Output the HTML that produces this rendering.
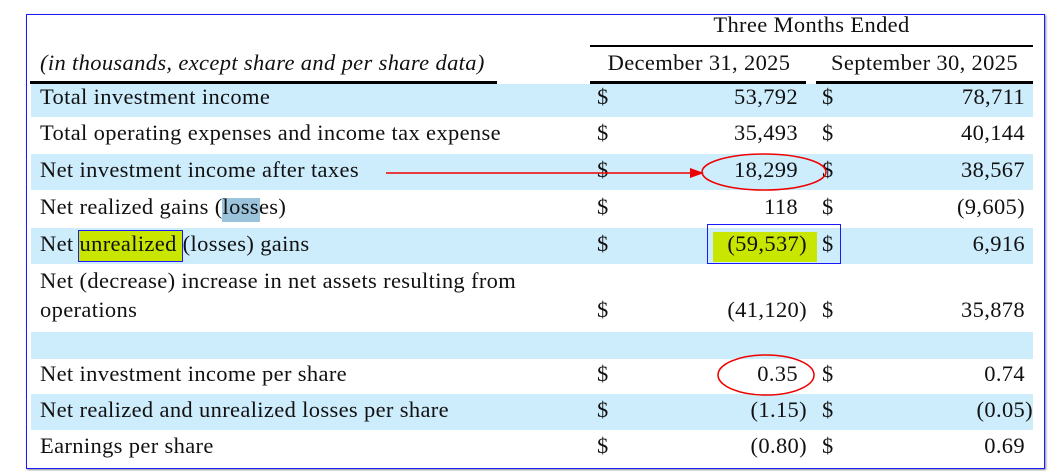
<!DOCTYPE html>
<html><head><meta charset="utf-8"><style>
body{margin:0;width:1054px;height:471px;background:#fff;position:relative;overflow:hidden;font-family:"Liberation Serif",serif;font-size:22.5px;letter-spacing:0.35px;color:#111}
.a{position:absolute;white-space:nowrap}
.band{position:absolute;left:31px;width:1002px;background:#cdecfc}
.r{text-align:right}
.ln{position:absolute;background:#000}
</style></head><body>
<div class="a" style="left:26px;top:14px;width:1017px;height:453px;border:1.5px solid #1a1aff;box-shadow:1px 1px 2px #888"></div>

<div class="band" style="top:84px;height:33px"></div>
<div class="band" style="top:154px;height:36px"></div>
<div class="band" style="top:228px;height:36px"></div>
<div class="band" style="top:332px;height:27px"></div>
<div class="band" style="top:394px;height:36px"></div>

<div class="a" style="left:590px;width:443px;text-align:center;top:12px">Three Months Ended</div>
<div class="ln" style="left:590px;top:45px;width:443px;height:1.5px"></div>
<div class="a" style="left:40px;top:50px;font-style:italic">(in thousands, except share and per share data)</div>
<div class="a" style="left:590px;width:218px;text-align:center;top:50px">December 31, 2025</div>
<div class="a" style="left:816px;width:217px;text-align:center;top:50px">September 30, 2025</div>
<div class="ln" style="left:30px;top:81px;width:467px;height:3px"></div>
<div class="ln" style="left:590px;top:81px;width:216px;height:3px"></div>
<div class="ln" style="left:816px;top:81px;width:217px;height:3px"></div>

<div class="a" style="left:222px;top:198px;width:38px;height:24px;background:#9cc3dc"></div>
<div class="a" style="left:78px;top:230px;width:105px;height:32px;background:#c8e600;border:1.5px solid #1a1aff;box-sizing:border-box"></div>
<div class="a" style="left:713px;top:232px;width:104px;height:30px;background:#c8e600"></div>
<div class="a" style="left:707px;top:224px;width:134px;height:40px;border:1.5px solid #1a1aff;box-sizing:border-box"></div>

<div id="rows"></div>

<svg class="a" style="left:0;top:0" width="1054" height="471">
<line x1="386" y1="173" x2="690" y2="173" stroke="#e00" stroke-width="1.5"/>
<polygon points="704,173 690,168 690,178" fill="#e00"/>
<ellipse cx="764" cy="172" rx="62" ry="18" fill="none" stroke="#e00" stroke-width="1.5"/>
<ellipse cx="766" cy="375" rx="48" ry="20" fill="none" stroke="#e00" stroke-width="1.5"/>
</svg>

<script>
const labels=["Total investment income","Total operating expenses and income tax expense","Net investment income after taxes","Net realized gains (losses)","Net unrealized (losses) gains","Net (decrease) increase in net assets resulting from|operations","","Net investment income per share","Net realized and unrealized losses per share","Earnings per share"];
const decVals=["53,792","35,493","18,299","118","(59,537)","(41,120)","","0.35","(1.15)","(0.80)"];
const sepVals=["78,711","40,144","38,567","(9,605)","6,916","35,878","","0.74","(0.05)","0.69"];
const rowTops=[84,120,157,194,231,0,0,361,397,433];
const root=document.getElementById('rows');
function add(html,l,t,w,cls){const d=document.createElement('div');d.className='a '+(cls||'');d.style.left=l+'px';d.style.top=t+'px';if(w)d.style.width=w+'px';d.innerHTML=html;root.appendChild(d);return d;}
labels.forEach((lab,i)=>{
  if(!lab)return;
  const parts=lab.split('|');
  const t=parts.length>1?268:rowTops[i];
  const l=add(parts[0],40,t);
  
  
  let vt=t;
  if(parts.length>1){vt=t+29;const l2=add(parts[1],40,vt);
  
  }
  const d1=add('$',597,vt);
  
  
  const d2=add('$',822,vt);
  
  
  const p1=decVals[i].endsWith(')');
  const v1=add(decVals[i],580,vt,p1?227:218,'r');
  
  
  const p2=sepVals[i].endsWith(')')&&i>6;
  const v2=add(sepVals[i],830,vt,p2?203:195,'r');
  
  
});
</script>
</body></html>
